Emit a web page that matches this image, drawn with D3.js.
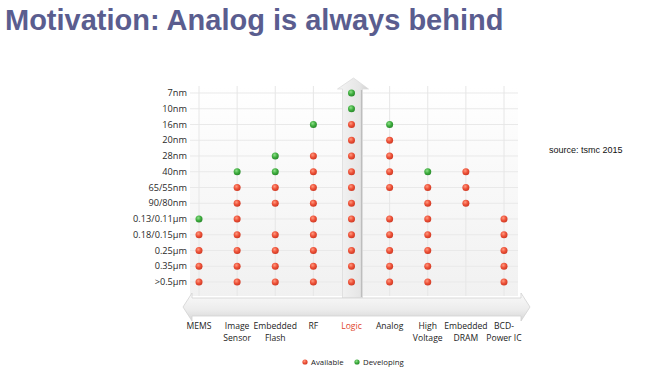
<!DOCTYPE html>
<html>
<head>
<meta charset="utf-8">
<script src="https://cdn.jsdelivr.net/npm/d3@7"></script>
<style>
  body { margin: 0; background: #fff; }
  svg { display: block; }
</style>
</head>
<body>
<svg id="chart" width="648" height="375"></svg>
<script>
// categories on the x axis (label lines)
const categories = ['MEMS', 'Image Sensor', 'Embedded Flash', 'RF', 'Logic', 'Analog', 'High Voltage', 'Embedded DRAM', 'BCD-Power IC'];
const categoryLines = [['MEMS'], ['Image', 'Sensor'], ['Embedded', 'Flash'], ['RF'], ['Logic'], ['Analog'], ['High', 'Voltage'], ['Embedded', 'DRAM'], ['BCD-', 'Power IC']];

// process nodes, top to bottom
const nodes = ['7nm', '10nm', '16nm', '20nm', '28nm', '40nm', '65/55nm', '90/80nm', '0.13/0.11μm', '0.18/0.15μm', '0.25μm', '0.35μm', '>0.5μm'];

// available nodes per category
const available = [
  ['0.18/0.15μm', '0.25μm', '0.35μm', '>0.5μm'],
  ['65/55nm', '90/80nm', '0.13/0.11μm', '0.18/0.15μm', '0.25μm', '0.35μm', '>0.5μm'],
  ['65/55nm', '90/80nm', '0.18/0.15μm', '0.25μm', '0.35μm', '>0.5μm'],
  ['28nm', '40nm', '65/55nm', '90/80nm', '0.13/0.11μm', '0.18/0.15μm', '0.25μm', '0.35μm', '>0.5μm'],
  ['16nm', '20nm', '28nm', '40nm', '65/55nm', '90/80nm', '0.13/0.11μm', '0.18/0.15μm', '0.25μm', '0.35μm', '>0.5μm'],
  ['20nm', '28nm', '40nm', '65/55nm', '0.13/0.11μm', '0.18/0.15μm', '0.25μm', '0.35μm', '>0.5μm'],
  ['65/55nm', '90/80nm', '0.13/0.11μm', '0.18/0.15μm', '0.25μm', '0.35μm', '>0.5μm'],
  ['40nm', '65/55nm', '90/80nm'],
  ['0.13/0.11μm', '0.18/0.15μm', '0.25μm', '0.35μm', '>0.5μm']
];

// developing nodes per category
const developing = [
  ['0.13/0.11μm'],
  ['40nm'],
  ['28nm', '40nm'],
  ['16nm'],
  ['7nm', '10nm'],
  ['16nm'],
  ['40nm'],
  [],
  []
];

const legendItems = ['Available', 'Developing'];

const svg = d3.select('#chart');
const defs = svg.append('defs');

// dot gradients
function dotGrad(id, light, base, dark) {
  const g = defs.append('radialGradient').attr('id', id)
    .attr('cx', '40%').attr('cy', '35%').attr('r', '65%');
  g.append('stop').attr('offset', '0%').attr('stop-color', light);
  g.append('stop').attr('offset', '55%').attr('stop-color', base);
  g.append('stop').attr('offset', '100%').attr('stop-color', dark);
}
dotGrad('gRed', '#ff9a80', '#ee5239', '#cf3a24');
dotGrad('gGreen', '#8fe08a', '#3fae3f', '#2a8a2c');

const bgGrad = defs.append('linearGradient').attr('id', 'bg').attr('x1', 0).attr('y1', 0).attr('x2', 0).attr('y2', 1);
bgGrad.append('stop').attr('offset', '0%').attr('stop-color', '#ffffff');
bgGrad.append('stop').attr('offset', '100%').attr('stop-color', '#f1f1f1');

const bandGrad = defs.append('linearGradient').attr('id', 'band').attr('x1', 0).attr('y1', 0).attr('x2', 0).attr('y2', 1);
bandGrad.append('stop').attr('offset', '0%').attr('stop-color', '#fafafa');
bandGrad.append('stop').attr('offset', '60%').attr('stop-color', '#ececec');
bandGrad.append('stop').attr('offset', '100%').attr('stop-color', '#d6d6d6');

const shaftGrad = defs.append('linearGradient').attr('id', 'shaft').attr('x1', 0).attr('y1', 0).attr('x2', 1).attr('y2', 0);
shaftGrad.append('stop').attr('offset', '0%').attr('stop-color', '#f4f4f4');
shaftGrad.append('stop').attr('offset', '70%').attr('stop-color', '#e6e6e6');
shaftGrad.append('stop').attr('offset', '100%').attr('stop-color', '#cfcfcf');

defs.append('clipPath').attr('id', 'clipL')
  .append('rect').attr('x', 131).attr('y', 0).attr('width', 517).attr('height', 375);

// title
svg.append('text')
  .attr('x', 5).attr('y', 30)
  .attr('font-family', 'Liberation Sans, Arial, sans-serif')
  .attr('font-weight', 'bold')
  .attr('font-size', 29)
  .attr('fill', '#5a5d8f')
  .text('Motivation: Analog is always behind');

svg.append('text')
  .attr('x', 549).attr('y', 153)
  .attr('font-family', 'Liberation Sans, Arial, sans-serif')
  .attr('font-size', 9)
  .attr('fill', '#111')
  .text('source: tsmc 2015');

// scales
const x = d3.scalePoint().domain(categories).range([199, 504]);
const y = d3.scalePoint().domain(nodes).range([93, 282]);

const plotL = 190, plotR = 518, plotT = 86, plotB = 296;

// plot background
svg.append('rect')
  .attr('x', plotL).attr('y', plotT)
  .attr('width', plotR - plotL).attr('height', plotB - plotT)
  .attr('fill', 'url(#bg)');

// gridlines
svg.append('g').selectAll('line')
  .data(nodes).enter().append('line')
  .attr('x1', plotL).attr('x2', plotR)
  .attr('y1', d => y(d)).attr('y2', d => y(d))
  .attr('stroke', '#e9e9e9').attr('stroke-width', 1);

svg.append('g').selectAll('line')
  .data(categories).enter().append('line')
  .attr('x1', d => x(d)).attr('x2', d => x(d))
  .attr('y1', plotT).attr('y2', plotB)
  .attr('stroke', '#e6e6e6').attr('stroke-width', 1);

// y labels
svg.append('g').attr('clip-path', 'url(#clipL)')
  .selectAll('text')
  .data(nodes).enter().append('text')
  .attr('x', 187).attr('y', d => y(d) + 3.2)
  .attr('text-anchor', 'end')
  .attr('font-family', 'Open Sans, sans-serif')
  .attr('font-size', 9.2)
  .attr('fill', '#2a2a2a')
  .text(d => d);

// vertical arrow on Logic
const lx = x('Logic');
const arrowTop = 78;
svg.append('path')
  .attr('d', `M${lx - 9},${plotB + 2} L${lx - 9},${arrowTop + 11} L${lx - 14},${arrowTop + 11} L${lx + 2},${arrowTop} L${lx + 17},${arrowTop + 11} L${lx + 11},${arrowTop + 11} L${lx + 11},${plotB + 2} Z`)
  .attr('fill', 'url(#shaft)')
  .attr('stroke', '#dcdcdc').attr('stroke-width', 0.8);
svg.append('line')
  .attr('x1', lx + 10).attr('x2', lx + 10)
  .attr('y1', arrowTop + 12).attr('y2', plotB + 1)
  .attr('stroke', '#bdbdbd').attr('stroke-width', 1.2);

// horizontal band arrow
const bT = 298, bB = 316, bL = 183, bR = 530;
svg.append('path')
  .attr('d', `M${bL},${(bT + bB) / 2} L${bL + 9},${bT - 5} L${bL + 9},${bT} L${bR - 9},${bT} L${bR - 9},${bT - 5} L${bR},${(bT + bB) / 2} L${bR - 9},${bB + 5} L${bR - 9},${bB} L${bL + 9},${bB} L${bL + 9},${bB + 5} Z`)
  .attr('fill', 'url(#band)')
  .attr('stroke', '#d2d2d2').attr('stroke-width', 0.8);

// dots
const points = [];
categories.forEach((c, i) => {
  available[i].forEach(n => points.push({ c, n, s: 'a' }));
  developing[i].forEach(n => points.push({ c, n, s: 'd' }));
});
svg.append('g').selectAll('circle')
  .data(points).enter().append('circle')
  .attr('cx', d => x(d.c)).attr('cy', d => y(d.n))
  .attr('r', 3.5)
  .attr('fill', d => d.s === 'a' ? 'url(#gRed)' : 'url(#gGreen)');

// x labels
const xl = svg.append('g').selectAll('text')
  .data(categories).enter().append('text')
  .attr('text-anchor', 'middle')
  .attr('font-family', 'Open Sans, sans-serif')
  .attr('font-size', 8.6)
  .attr('fill', d => d === 'Logic' ? '#e0452c' : '#222');
xl.each(function (d, i) {
  d3.select(this).selectAll('tspan')
    .data(categoryLines[i]).enter().append('tspan')
    .attr('x', x(d)).attr('y', (t, j) => 329 + j * 12)
    .text(t => t);
});

// legend
const legX = [305, 357];
const leg = svg.append('g').selectAll('g')
  .data(legendItems).enter().append('g')
  .attr('transform', (d, i) => `translate(${legX[i]},362)`);
leg.append('circle').attr('r', 2.6)
  .attr('fill', (d, i) => i === 0 ? 'url(#gRed)' : 'url(#gGreen)');
leg.append('text')
  .attr('x', 6).attr('y', 2.8)
  .attr('font-family', 'Open Sans, sans-serif')
  .attr('font-size', 7.8)
  .attr('fill', '#222')
  .text(d => d);
</script>
</body>
</html>
